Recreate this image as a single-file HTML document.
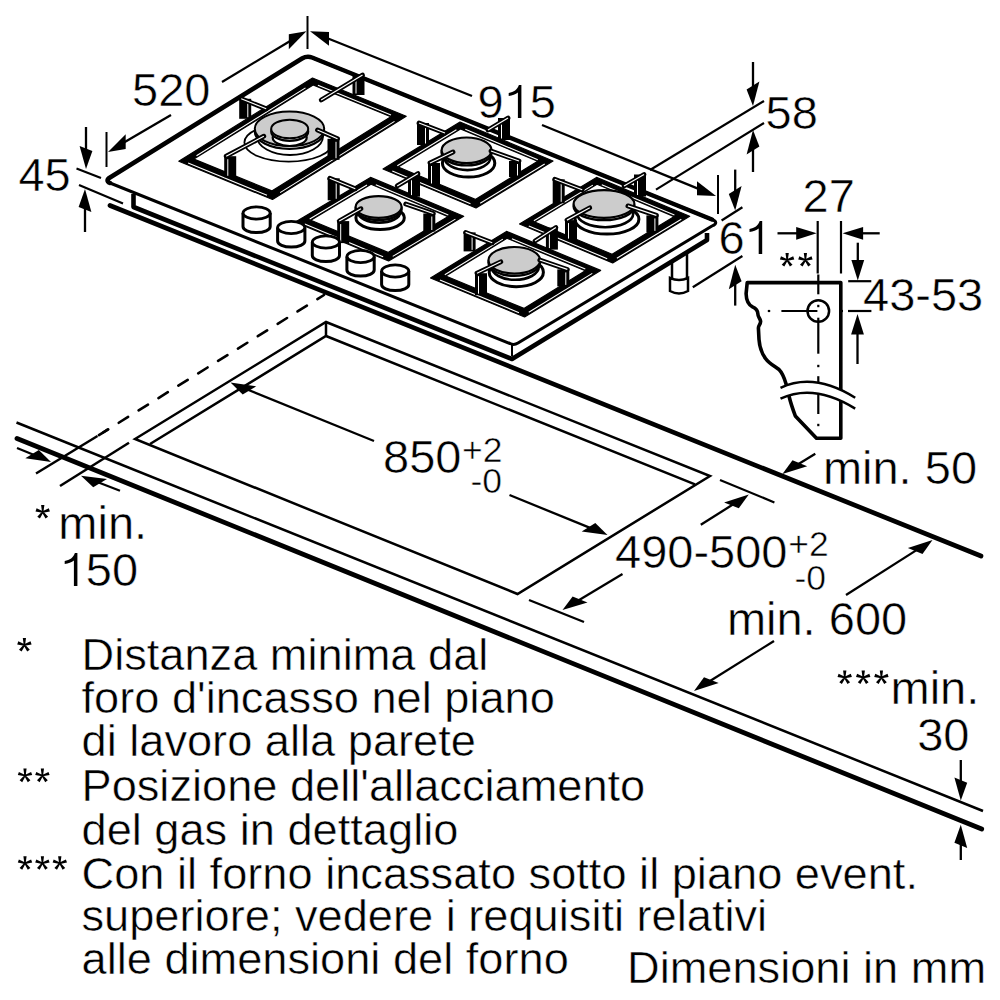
<!DOCTYPE html>
<html><head><meta charset="utf-8">
<style>
html,body{margin:0;padding:0;background:#fff;}
svg{display:block;}
text{font-family:"Liberation Sans",sans-serif;fill:#000;stroke:#fff;stroke-width:0.5px;}
</style></head>
<body>
<svg width="1000" height="1000" viewBox="0 0 1000 1000">
<g stroke="#000" fill="none">
<line x1="110" y1="205.5" x2="981" y2="556" stroke-width="4.7" stroke-linecap="round" />
<line x1="16.5" y1="422.5" x2="983" y2="811" stroke-width="2.5" stroke-linecap="butt" />
<line x1="17" y1="438.5" x2="981.7" y2="829" stroke-width="4.8" stroke-linecap="round" />
<path d="M135,439 L326,322 L710,476 L517.5,594 Z" stroke-width="2.5" fill="none" />
<path d="M150,444 L326,336 L695,484.4" stroke-width="2.5" fill="none" />
<line x1="326" y1="322" x2="326" y2="336" stroke-width="2.5" stroke-linecap="butt" />
<line x1="36" y1="473.5" x2="97.5" y2="436" stroke-width="2.5" stroke-linecap="butt" />
<line x1="97.5" y1="436" x2="324" y2="295" stroke-width="2.6" stroke-linecap="round" stroke-dasharray="11,12.4" stroke-dashoffset="21.75"/>
<line x1="103" y1="432.5" x2="107.5" y2="429.7" stroke-width="2.6" stroke-linecap="round" />
<line x1="60" y1="486" x2="129" y2="442.7" stroke-width="2.5" stroke-linecap="butt" />
<line x1="17" y1="448" x2="34.8" y2="455.3" stroke-width="2.3" stroke-linecap="butt" />
<path d="M51,462 L38.8,450.1 L25.3,458.3 Z" stroke="none" fill="#000"/>
<line x1="120" y1="490.7" x2="97.3" y2="482" stroke-width="2.3" stroke-linecap="butt" />
<path d="M81,475.7 L107,478.9 L93.2,487.3 Z" stroke="none" fill="#000"/>
<path d="M133.5,194 L133.5,207 L512,359 L707,240 L707,233" stroke-width="4.6" fill="none" stroke-linejoin="round"/>
<line x1="512" y1="345" x2="512" y2="356" stroke-width="2" stroke-linecap="butt" />
<path d="M110,177.5 Q105,180.5 110,183 L510,343.5 Q514,345.5 518,343 L712,226 Q719.5,222.5 712,219.5 L312,57.5 Q307,55.5 302,58.5 Z" stroke-width="3.0" fill="#fff" stroke-linejoin="round"/>
<path d="M110,183 Q105,180.5 110,177.5 L302,58.5 Q307,55.5 312,57.5 L712,219.5" stroke-width="4.5" fill="none" stroke-linecap="round"/>
<path d="M672,262 L672,278 M687,253 L687,278" stroke-width="2.5" fill="none" />
<path d="M670,278 L670,291 Q679,296 688,291 L688,278 Q679,282 670,278 Z" stroke-width="2.5" fill="#fff" />
<path d="M178.8,161.2 L312.5,78 L406.2,116.2 L272.5,199.5 Z M193.9,159.1 L313.1,84.9 L390.9,116.7 L271.8,190.9 Z" fill="#000" fill-rule="evenodd" stroke="#000" stroke-width="1.2" stroke-linejoin="round"/>
<line x1="196.5" y1="155.7" x2="305.5" y2="87.9" stroke-width="1.1" stroke-linecap="butt" stroke="#fff"/>
<line x1="317.9" y1="85.3" x2="391" y2="115.1" stroke-width="1.1" stroke-linecap="butt" stroke="#fff"/>
<line x1="394.5" y1="121.4" x2="280.1" y2="192.6" stroke-width="1.1" stroke-linecap="butt" stroke="#fff"/>
<line x1="267" y1="195.3" x2="188.1" y2="163.1" stroke-width="1.1" stroke-linecap="butt" stroke="#fff"/>
<ellipse cx="288.7" cy="142.6" rx="44.3" ry="19" stroke-width="1.8" fill="#fff" />
<ellipse cx="290" cy="136.5" rx="33" ry="18.5" stroke-width="1.8" fill="#fff" />
<ellipse cx="289.5" cy="131.5" rx="34.7" ry="17.3" stroke-width="2.2" fill="#fff" />
<ellipse cx="289.5" cy="128.8" rx="34.7" ry="17.3" stroke-width="2" fill="#ccc" />
<ellipse cx="289.7" cy="137.5" rx="17" ry="8.5" stroke-width="2.2" fill="#fff" />
<ellipse cx="289.7" cy="131.5" rx="18.5" ry="9.3" stroke-width="2.2" fill="#fff" />
<ellipse cx="289.7" cy="129" rx="18.5" ry="9.3" stroke-width="2" fill="#ccc" />
<rect x="352.5" y="75" width="12" height="20" fill="#000" stroke="none"/>
<line x1="356" y1="78" x2="356" y2="93.5" stroke-width="1.0" stroke-linecap="butt" stroke="#fff"/>
<line x1="362.5" y1="75" x2="321.2" y2="100" stroke-width="4.8" stroke-linecap="round" />
<line x1="362.5" y1="75" x2="321.2" y2="100" stroke-width="1.2" stroke-linecap="butt" stroke="#fff"/>
<rect x="239.2" y="98.8" width="12" height="20" fill="#000" stroke="none"/>
<line x1="247.8" y1="101.8" x2="247.8" y2="117.2" stroke-width="1.0" stroke-linecap="butt" stroke="#fff"/>
<line x1="241.2" y1="98.8" x2="266.2" y2="108.8" stroke-width="4.8" stroke-linecap="round" />
<line x1="241.2" y1="98.8" x2="266.2" y2="108.8" stroke-width="1.2" stroke-linecap="butt" stroke="#fff"/>
<rect x="224.2" y="156.2" width="12" height="21" fill="#000" stroke="none"/>
<line x1="227.8" y1="159.2" x2="227.8" y2="175.8" stroke-width="1.0" stroke-linecap="butt" stroke="#fff"/>
<line x1="226.2" y1="156.2" x2="263.8" y2="136.2" stroke-width="4.8" stroke-linecap="round" />
<line x1="226.2" y1="156.2" x2="263.8" y2="136.2" stroke-width="1.2" stroke-linecap="butt" stroke="#fff"/>
<rect x="327.5" y="138.8" width="12" height="21" fill="#000" stroke="none"/>
<line x1="336" y1="141.8" x2="336" y2="158.2" stroke-width="1.0" stroke-linecap="butt" stroke="#fff"/>
<line x1="337.5" y1="138.8" x2="317.5" y2="130" stroke-width="4.8" stroke-linecap="round" />
<line x1="337.5" y1="138.8" x2="317.5" y2="130" stroke-width="1.2" stroke-linecap="butt" stroke="#fff"/>
<path d="M383,169 L460,122 L553,161 L476,208 Z M398.2,167 L460.5,128.9 L537.7,161.3 L475.3,199.4 Z" fill="#000" fill-rule="evenodd" stroke="#000" stroke-width="1.2" stroke-linejoin="round"/>
<line x1="397.3" y1="165.8" x2="456.4" y2="129.7" stroke-width="1.1" stroke-linecap="butt" stroke="#fff"/>
<line x1="465.3" y1="129.3" x2="537.8" y2="159.7" stroke-width="1.1" stroke-linecap="butt" stroke="#fff"/>
<line x1="544.7" y1="164" x2="480.2" y2="203.3" stroke-width="1.1" stroke-linecap="butt" stroke="#fff"/>
<line x1="470.5" y1="203.7" x2="392.3" y2="170.9" stroke-width="1.1" stroke-linecap="butt" stroke="#fff"/>
<ellipse cx="468.6" cy="163.2" rx="26.2" ry="13.8" stroke-width="3" fill="#fff" />
<ellipse cx="467.4" cy="157.6" rx="23" ry="12.5" stroke-width="2.6" fill="#fff" />
<ellipse cx="466.6" cy="152.6" rx="25" ry="12.8" stroke-width="2.4" fill="#fff" />
<ellipse cx="466.6" cy="150.3" rx="25" ry="12.8" stroke-width="2.2" fill="#ccc" />
<rect x="417" y="123" width="12" height="22" fill="#000" stroke="none"/>
<line x1="425.5" y1="126" x2="425.5" y2="143.5" stroke-width="1.0" stroke-linecap="butt" stroke="#fff"/>
<line x1="419" y1="123" x2="445" y2="133" stroke-width="4.8" stroke-linecap="round" />
<line x1="419" y1="123" x2="445" y2="133" stroke-width="1.2" stroke-linecap="butt" stroke="#fff"/>
<rect x="498" y="118" width="12" height="22" fill="#000" stroke="none"/>
<line x1="501.5" y1="121" x2="501.5" y2="138.5" stroke-width="1.0" stroke-linecap="butt" stroke="#fff"/>
<line x1="508" y1="118" x2="488" y2="130" stroke-width="4.8" stroke-linecap="round" />
<line x1="508" y1="118" x2="488" y2="130" stroke-width="1.2" stroke-linecap="butt" stroke="#fff"/>
<rect x="428" y="163" width="12" height="22" fill="#000" stroke="none"/>
<line x1="431.5" y1="166" x2="431.5" y2="183.5" stroke-width="1.0" stroke-linecap="butt" stroke="#fff"/>
<line x1="430" y1="163" x2="453" y2="152" stroke-width="4.8" stroke-linecap="round" />
<line x1="430" y1="163" x2="453" y2="152" stroke-width="1.2" stroke-linecap="butt" stroke="#fff"/>
<rect x="509" y="161" width="12" height="16" fill="#000" stroke="none"/>
<line x1="517.5" y1="164" x2="517.5" y2="175.5" stroke-width="1.0" stroke-linecap="butt" stroke="#fff"/>
<line x1="519" y1="161" x2="491" y2="151" stroke-width="4.8" stroke-linecap="round" />
<line x1="519" y1="161" x2="491" y2="151" stroke-width="1.2" stroke-linecap="butt" stroke="#fff"/>
<path d="M295.4,222.1 L370.5,177.4 L463.7,216.3 L388.6,261 Z M310.8,220.2 L371,184.3 L448.2,216.6 L388,252.4 Z" fill="#000" fill-rule="evenodd" stroke="#000" stroke-width="1.2" stroke-linejoin="round"/>
<line x1="309.7" y1="219" x2="367" y2="185" stroke-width="1.1" stroke-linecap="butt" stroke="#fff"/>
<line x1="375.8" y1="184.7" x2="448.3" y2="215" stroke-width="1.1" stroke-linecap="butt" stroke="#fff"/>
<line x1="455.4" y1="219.1" x2="392.7" y2="256.4" stroke-width="1.1" stroke-linecap="butt" stroke="#fff"/>
<line x1="383.1" y1="256.8" x2="304.7" y2="224" stroke-width="1.1" stroke-linecap="butt" stroke="#fff"/>
<ellipse cx="380.1" cy="217.8" rx="24.2" ry="11.7" stroke-width="3" fill="#fff" />
<ellipse cx="379.2" cy="212" rx="21.2" ry="10.6" stroke-width="2.6" fill="#fff" />
<ellipse cx="378.6" cy="209.3" rx="23" ry="10.8" stroke-width="2.4" fill="#fff" />
<ellipse cx="378.6" cy="207" rx="23" ry="10.8" stroke-width="2.2" fill="#ccc" />
<rect x="327.7" y="178.3" width="12" height="22" fill="#000" stroke="none"/>
<line x1="336.2" y1="181.3" x2="336.2" y2="198.8" stroke-width="1.0" stroke-linecap="butt" stroke="#fff"/>
<line x1="329.7" y1="178.3" x2="355.3" y2="188.8" stroke-width="4.8" stroke-linecap="round" />
<line x1="329.7" y1="178.3" x2="355.3" y2="188.8" stroke-width="1.2" stroke-linecap="butt" stroke="#fff"/>
<rect x="408" y="173.6" width="12" height="23" fill="#000" stroke="none"/>
<line x1="411.5" y1="176.6" x2="411.5" y2="195.1" stroke-width="1.0" stroke-linecap="butt" stroke="#fff"/>
<line x1="418" y1="173.6" x2="397.2" y2="185.9" stroke-width="4.8" stroke-linecap="round" />
<line x1="418" y1="173.6" x2="397.2" y2="185.9" stroke-width="1.2" stroke-linecap="butt" stroke="#fff"/>
<rect x="337.2" y="221.1" width="12" height="22" fill="#000" stroke="none"/>
<line x1="340.7" y1="224.1" x2="340.7" y2="241.6" stroke-width="1.0" stroke-linecap="butt" stroke="#fff"/>
<line x1="339.2" y1="221.1" x2="361" y2="208.7" stroke-width="4.8" stroke-linecap="round" />
<line x1="339.2" y1="221.1" x2="361" y2="208.7" stroke-width="1.2" stroke-linecap="butt" stroke="#fff"/>
<rect x="423.3" y="213.5" width="12" height="18" fill="#000" stroke="none"/>
<line x1="431.8" y1="216.5" x2="431.8" y2="230" stroke-width="1.0" stroke-linecap="butt" stroke="#fff"/>
<line x1="433.3" y1="213.5" x2="405.7" y2="204" stroke-width="4.8" stroke-linecap="round" />
<line x1="433.3" y1="213.5" x2="405.7" y2="204" stroke-width="1.2" stroke-linecap="butt" stroke="#fff"/>
<path d="M519.5,224 L596.5,177.4 L689.7,216.3 L612.7,262.9 Z M534.7,222 L597,184.3 L674.3,216.6 L612.1,254.3 Z" fill="#000" fill-rule="evenodd" stroke="#000" stroke-width="1.2" stroke-linejoin="round"/>
<line x1="533.9" y1="220.8" x2="592.9" y2="185.1" stroke-width="1.1" stroke-linecap="butt" stroke="#fff"/>
<line x1="601.8" y1="184.7" x2="674.4" y2="215" stroke-width="1.1" stroke-linecap="butt" stroke="#fff"/>
<line x1="681.3" y1="219.3" x2="616.9" y2="258.2" stroke-width="1.1" stroke-linecap="butt" stroke="#fff"/>
<line x1="607.2" y1="258.7" x2="528.8" y2="225.9" stroke-width="1.1" stroke-linecap="butt" stroke="#fff"/>
<ellipse cx="607" cy="219.2" rx="31.9" ry="14.9" stroke-width="3" fill="#fff" />
<ellipse cx="605.2" cy="213.7" rx="28" ry="13.5" stroke-width="2.6" fill="#fff" />
<ellipse cx="604" cy="206.3" rx="30.4" ry="13.8" stroke-width="2.4" fill="#fff" />
<ellipse cx="604" cy="204" rx="30.4" ry="13.8" stroke-width="2.2" fill="#ccc" />
<rect x="552.7" y="179.3" width="12" height="24" fill="#000" stroke="none"/>
<line x1="561.2" y1="182.3" x2="561.2" y2="201.8" stroke-width="1.0" stroke-linecap="butt" stroke="#fff"/>
<line x1="554.7" y1="179.3" x2="582.2" y2="189.7" stroke-width="4.8" stroke-linecap="round" />
<line x1="554.7" y1="179.3" x2="582.2" y2="189.7" stroke-width="1.2" stroke-linecap="butt" stroke="#fff"/>
<rect x="634" y="174.5" width="12" height="22" fill="#000" stroke="none"/>
<line x1="637.5" y1="177.5" x2="637.5" y2="195" stroke-width="1.0" stroke-linecap="butt" stroke="#fff"/>
<line x1="644" y1="174.5" x2="624" y2="186" stroke-width="4.8" stroke-linecap="round" />
<line x1="644" y1="174.5" x2="624" y2="186" stroke-width="1.2" stroke-linecap="butt" stroke="#fff"/>
<rect x="565" y="220.1" width="12" height="20" fill="#000" stroke="none"/>
<line x1="568.5" y1="223.1" x2="568.5" y2="238.6" stroke-width="1.0" stroke-linecap="butt" stroke="#fff"/>
<line x1="567" y1="220.1" x2="589.8" y2="207.8" stroke-width="4.8" stroke-linecap="round" />
<line x1="567" y1="220.1" x2="589.8" y2="207.8" stroke-width="1.2" stroke-linecap="butt" stroke="#fff"/>
<rect x="646.4" y="215.4" width="12" height="17" fill="#000" stroke="none"/>
<line x1="654.9" y1="218.4" x2="654.9" y2="230.9" stroke-width="1.0" stroke-linecap="butt" stroke="#fff"/>
<line x1="656.4" y1="215.4" x2="627.9" y2="205.9" stroke-width="4.8" stroke-linecap="round" />
<line x1="656.4" y1="215.4" x2="627.9" y2="205.9" stroke-width="1.2" stroke-linecap="butt" stroke="#fff"/>
<path d="M430.5,278 L506.5,231.4 L600.6,270.4 L524.6,317 Z M445.7,276 L507,238.3 L585.3,270.8 L523.9,308.4 Z" fill="#000" fill-rule="evenodd" stroke="#000" stroke-width="1.2" stroke-linejoin="round"/>
<line x1="444.8" y1="274.8" x2="502.9" y2="239.1" stroke-width="1.1" stroke-linecap="butt" stroke="#fff"/>
<line x1="511.9" y1="238.7" x2="585.3" y2="269.1" stroke-width="1.1" stroke-linecap="butt" stroke="#fff"/>
<line x1="592.3" y1="273.4" x2="528.8" y2="312.3" stroke-width="1.1" stroke-linecap="butt" stroke="#fff"/>
<line x1="519" y1="312.7" x2="439.9" y2="279.9" stroke-width="1.1" stroke-linecap="butt" stroke="#fff"/>
<ellipse cx="516.3" cy="272.3" rx="27.1" ry="14.4" stroke-width="3" fill="#fff" />
<ellipse cx="515.1" cy="266.8" rx="23.7" ry="13" stroke-width="2.6" fill="#fff" />
<ellipse cx="514.3" cy="262.6" rx="25.8" ry="13.3" stroke-width="2.4" fill="#fff" />
<ellipse cx="514.3" cy="260.3" rx="25.8" ry="13.3" stroke-width="2.2" fill="#ccc" />
<rect x="463.6" y="232.4" width="12" height="19" fill="#000" stroke="none"/>
<line x1="472.1" y1="235.4" x2="472.1" y2="249.9" stroke-width="1.0" stroke-linecap="butt" stroke="#fff"/>
<line x1="465.6" y1="232.4" x2="492.2" y2="242.8" stroke-width="4.8" stroke-linecap="round" />
<line x1="465.6" y1="232.4" x2="492.2" y2="242.8" stroke-width="1.2" stroke-linecap="butt" stroke="#fff"/>
<rect x="545.9" y="227.6" width="12" height="22" fill="#000" stroke="none"/>
<line x1="549.4" y1="230.6" x2="549.4" y2="248.1" stroke-width="1.0" stroke-linecap="butt" stroke="#fff"/>
<line x1="555.9" y1="227.6" x2="535" y2="240.9" stroke-width="4.8" stroke-linecap="round" />
<line x1="555.9" y1="227.6" x2="535" y2="240.9" stroke-width="1.2" stroke-linecap="butt" stroke="#fff"/>
<rect x="475" y="273.2" width="12" height="22" fill="#000" stroke="none"/>
<line x1="478.5" y1="276.2" x2="478.5" y2="293.7" stroke-width="1.0" stroke-linecap="butt" stroke="#fff"/>
<line x1="477" y1="273.2" x2="500.8" y2="261.8" stroke-width="4.8" stroke-linecap="round" />
<line x1="477" y1="273.2" x2="500.8" y2="261.8" stroke-width="1.2" stroke-linecap="butt" stroke="#fff"/>
<rect x="557.3" y="269.4" width="12" height="17" fill="#000" stroke="none"/>
<line x1="565.8" y1="272.4" x2="565.8" y2="284.9" stroke-width="1.0" stroke-linecap="butt" stroke="#fff"/>
<line x1="567.3" y1="269.4" x2="539.8" y2="260" stroke-width="4.8" stroke-linecap="round" />
<line x1="567.3" y1="269.4" x2="539.8" y2="260" stroke-width="1.2" stroke-linecap="butt" stroke="#fff"/>
<path d="M243,213 L243,226.5 A13.6,6.1 0 0 0 270.2,226.5 L270.2,213" fill="#fff" stroke-width="3"/>
<ellipse cx="256.6" cy="213" rx="13.6" ry="6.1" stroke-width="2.8" fill="#fff" />
<path d="M277.6,227.5 L277.6,241 A13.6,6.1 0 0 0 304.9,241 L304.9,227.5" fill="#fff" stroke-width="3"/>
<ellipse cx="291.2" cy="227.5" rx="13.6" ry="6.1" stroke-width="2.8" fill="#fff" />
<path d="M312.3,242 L312.3,255.5 A13.6,6.1 0 0 0 339.5,255.5 L339.5,242" fill="#fff" stroke-width="3"/>
<ellipse cx="325.9" cy="242" rx="13.6" ry="6.1" stroke-width="2.8" fill="#fff" />
<path d="M346.9,256.5 L346.9,270 A13.6,6.1 0 0 0 374.2,270 L374.2,256.5" fill="#fff" stroke-width="3"/>
<ellipse cx="360.6" cy="256.5" rx="13.6" ry="6.1" stroke-width="2.8" fill="#fff" />
<path d="M381.6,271 L381.6,284.5 A13.6,6.1 0 0 0 408.8,284.5 L408.8,271" fill="#fff" stroke-width="3"/>
<ellipse cx="395.2" cy="271" rx="13.6" ry="6.1" stroke-width="2.8" fill="#fff" />
<path d="M517.9,118 L521.4,118 L521.4,85 L518.9,85 C517.5,89.5 513.7,92.2 508.7,93 L508.7,96 C512.3,95.7 515.7,94.4 517.9,92.5 Z" fill="#000" stroke="none"/>
<path d="M758.7,254 L762.2,254 L762.2,221 L759.7,221 C758.3,225.5 754.5,228.2 749.5,229 L749.5,232 C753.1,231.7 756.5,230.4 758.7,228.5 Z" fill="#000" stroke="none"/>
<path d="M73.9,586 L77.4,586 L77.4,553 L74.9,553 C73.5,557.5 69.7,560.2 64.7,561 L64.7,564 C68.3,563.7 71.7,562.4 73.9,560.5 Z" fill="#000" stroke="none"/>
<path d="M25.1,645 L26,638 L22.8,638 L23.7,645 Z M24.6,645.7 L31.6,644.4 L30.5,641.3 L24.2,644.3 Z M23.8,645.4 L27.2,651.6 L29.8,649.7 L25,644.6 Z M23.8,644.6 L19,649.7 L21.6,651.6 L25,645.4 Z M24.6,644.3 L18.3,641.3 L17.2,644.4 L24.2,645.7 Z " fill="#000" stroke="none"/>
<path d="M25.7,775.6 L26.6,768.6 L23.4,768.6 L24.3,775.6 Z M25.2,776.3 L32.2,775 L31.1,771.9 L24.8,774.9 Z M24.4,776 L27.8,782.2 L30.4,780.3 L25.6,775.2 Z M24.4,775.2 L19.6,780.3 L22.2,782.2 L25.6,776 Z M25.2,774.9 L18.9,771.9 L17.8,775 L24.8,776.3 Z " fill="#000" stroke="none"/>
<path d="M43.1,775.6 L44,768.6 L40.8,768.6 L41.7,775.6 Z M42.6,776.3 L49.6,775 L48.5,771.9 L42.2,774.9 Z M41.8,776 L45.2,782.2 L47.8,780.3 L43,775.2 Z M41.8,775.2 L37,780.3 L39.6,782.2 L43,776 Z M42.6,774.9 L36.3,771.9 L35.2,775 L42.2,776.3 Z " fill="#000" stroke="none"/>
<path d="M25.7,863.2 L26.6,856.2 L23.4,856.2 L24.3,863.2 Z M25.2,863.9 L32.2,862.6 L31.1,859.5 L24.8,862.5 Z M24.4,863.6 L27.8,869.8 L30.4,867.9 L25.6,862.8 Z M24.4,862.8 L19.6,867.9 L22.2,869.8 L25.6,863.6 Z M25.2,862.5 L18.9,859.5 L17.8,862.6 L24.8,863.9 Z " fill="#000" stroke="none"/>
<path d="M43.1,863.2 L44,856.2 L40.8,856.2 L41.7,863.2 Z M42.6,863.9 L49.6,862.6 L48.5,859.5 L42.2,862.5 Z M41.8,863.6 L45.2,869.8 L47.8,867.9 L43,862.8 Z M41.8,862.8 L37,867.9 L39.6,869.8 L43,863.6 Z M42.6,862.5 L36.3,859.5 L35.2,862.6 L42.2,863.9 Z " fill="#000" stroke="none"/>
<path d="M60.5,863.2 L61.4,856.2 L58.1,856.2 L59.1,863.2 Z M60,863.9 L67,862.6 L65.9,859.5 L59.6,862.5 Z M59.2,863.6 L62.6,869.8 L65.2,867.9 L60.4,862.8 Z M59.2,862.8 L54.4,867.9 L57,869.8 L60.4,863.6 Z M60,862.5 L53.7,859.5 L52.6,862.6 L59.6,863.9 Z " fill="#000" stroke="none"/>
<path d="M43.4,512 L44.4,505 L41.1,505 L42,512 Z M42.9,512.7 L49.9,511.4 L48.8,508.3 L42.5,511.3 Z M42.1,512.4 L45.5,518.6 L48.1,516.7 L43.3,511.6 Z M42.1,511.6 L37.3,516.7 L39.9,518.6 L43.3,512.4 Z M42.9,511.3 L36.6,508.3 L35.5,511.4 L42.5,512.7 Z " fill="#000" stroke="none"/>
<path d="M787.8,260 L788.8,253 L785.5,253 L786.4,260 Z M787.3,260.7 L794.3,259.4 L793.2,256.3 L786.9,259.3 Z M786.5,260.4 L789.9,266.6 L792.5,264.7 L787.7,259.6 Z M786.5,259.6 L781.7,264.7 L784.3,266.6 L787.7,260.4 Z M787.3,259.3 L781,256.3 L779.9,259.4 L786.9,260.7 Z " fill="#000" stroke="none"/>
<path d="M806.1,260 L807,253 L803.8,253 L804.7,260 Z M805.6,260.7 L812.6,259.4 L811.5,256.3 L805.2,259.3 Z M804.8,260.4 L808.2,266.6 L810.8,264.7 L806,259.6 Z M804.8,259.6 L800,264.7 L802.6,266.6 L806,260.4 Z M805.6,259.3 L799.3,256.3 L798.2,259.4 L805.2,260.7 Z " fill="#000" stroke="none"/>
<path d="M845.4,677.5 L846.4,670.5 L843.1,670.5 L844,677.5 Z M844.9,678.2 L851.9,676.9 L850.8,673.8 L844.5,676.8 Z M844.1,677.9 L847.5,684.1 L850.1,682.2 L845.3,677.1 Z M844.1,677.1 L839.3,682.2 L841.9,684.1 L845.3,677.9 Z M844.9,676.8 L838.6,673.8 L837.5,676.9 L844.5,678.2 Z " fill="#000" stroke="none"/>
<path d="M863.9,677.5 L864.9,670.5 L861.6,670.5 L862.5,677.5 Z M863.4,678.2 L870.4,676.9 L869.3,673.8 L863,676.8 Z M862.6,677.9 L866,684.1 L868.6,682.2 L863.8,677.1 Z M862.6,677.1 L857.8,682.2 L860.4,684.1 L863.8,677.9 Z M863.4,676.8 L857.1,673.8 L856,676.9 L863,678.2 Z " fill="#000" stroke="none"/>
<path d="M882.1,677.5 L883,670.5 L879.8,670.5 L880.7,677.5 Z M881.6,678.2 L888.6,676.9 L887.5,673.8 L881.2,676.8 Z M880.8,677.9 L884.2,684.1 L886.8,682.2 L882,677.1 Z M880.8,677.1 L876,682.2 L878.6,684.1 L882,677.9 Z M881.6,676.8 L875.3,673.8 L874.2,676.9 L881.2,678.2 Z " fill="#000" stroke="none"/>
<line x1="106.5" y1="132" x2="106.5" y2="167" stroke-width="2" stroke-linecap="butt" />
<line x1="307.5" y1="16" x2="307.5" y2="49" stroke-width="2" stroke-linecap="butt" />
<line x1="171" y1="115" x2="123.1" y2="143.1" stroke-width="2.3" stroke-linecap="butt" />
<path d="M108,152 L125.7,149 L125.7,134.2 Z" stroke="none" fill="#000"/>
<line x1="222" y1="82" x2="291.4" y2="40.2" stroke-width="2.3" stroke-linecap="butt" />
<path d="M306.4,31.2 L288.8,49.2 L288.8,34.3 Z" stroke="none" fill="#000"/>
<line x1="718" y1="175" x2="718" y2="214" stroke-width="2" stroke-linecap="butt" />
<line x1="472" y1="96" x2="326.2" y2="37.7" stroke-width="2.3" stroke-linecap="butt" />
<path d="M310,31.2 L329,45.7 L329,31.9 Z" stroke="none" fill="#000"/>
<line x1="542" y1="125" x2="699.8" y2="189.4" stroke-width="2.3" stroke-linecap="butt" />
<path d="M716,196 L697,195.2 L697,181.3 Z" stroke="none" fill="#000"/>
<line x1="76.5" y1="168.5" x2="101" y2="178" stroke-width="2.2" stroke-linecap="butt" />
<line x1="79" y1="185" x2="123" y2="203.5" stroke-width="2.2" stroke-linecap="butt" />
<line x1="86" y1="127" x2="86" y2="151.5" stroke-width="2.3" stroke-linecap="butt" />
<path d="M86,169 L92.4,151.1 L79.6,145.9 Z" stroke="none" fill="#000"/>
<line x1="85" y1="232" x2="85" y2="206.5" stroke-width="2.3" stroke-linecap="butt" />
<path d="M85,189 L91.4,212.1 L78.6,206.9 Z" stroke="none" fill="#000"/>
<line x1="650" y1="170" x2="764" y2="101" stroke-width="2.2" stroke-linecap="butt" />
<line x1="656" y1="189.6" x2="764" y2="123" stroke-width="2.2" stroke-linecap="butt" />
<line x1="753" y1="62" x2="753" y2="88.5" stroke-width="2.3" stroke-linecap="butt" />
<path d="M753,106 L759.4,81.6 L746.6,89.4 Z" stroke="none" fill="#000"/>
<line x1="753" y1="172" x2="753" y2="147.5" stroke-width="2.3" stroke-linecap="butt" />
<path d="M753,130 L759.4,146.6 L746.6,154.4 Z" stroke="none" fill="#000"/>
<line x1="721.6" y1="220.5" x2="742.4" y2="207.2" stroke-width="2.2" stroke-linecap="butt" />
<line x1="692.8" y1="287.2" x2="742.4" y2="256" stroke-width="2.2" stroke-linecap="butt" />
<line x1="735.2" y1="169.6" x2="735.2" y2="192.9" stroke-width="2.3" stroke-linecap="butt" />
<path d="M735.2,210.4 L741.6,185.9 L728.8,193.9 Z" stroke="none" fill="#000"/>
<line x1="735.2" y1="305.6" x2="735.2" y2="282.3" stroke-width="2.3" stroke-linecap="butt" />
<path d="M735.2,264.8 L741.6,281.3 L728.8,289.3 Z" stroke="none" fill="#000"/>
<line x1="841" y1="221" x2="841" y2="273.5" stroke-width="2.2" stroke-linecap="butt" />
<line x1="817.7" y1="221" x2="817.7" y2="273.5" stroke-width="2.2" stroke-linecap="butt" />
<line x1="777.5" y1="233.3" x2="799.2" y2="233.3" stroke-width="2.3" stroke-linecap="butt" />
<path d="M816.7,233.3 L796.2,239.7 L796.2,226.9 Z" stroke="none" fill="#000"/>
<line x1="879.7" y1="233.3" x2="860.1" y2="233.3" stroke-width="2.3" stroke-linecap="butt" />
<path d="M842.6,233.3 L863.1,226.9 L863.1,239.7 Z" stroke="none" fill="#000"/>
<line x1="848.2" y1="281.2" x2="871.3" y2="281.2" stroke-width="2.2" stroke-linecap="butt" />
<line x1="848" y1="311" x2="871.4" y2="311" stroke-width="2.2" stroke-linecap="butt" />
<line x1="857.8" y1="242.7" x2="857.8" y2="263" stroke-width="2.3" stroke-linecap="butt" />
<path d="M857.8,280.5 L851.4,260 L864.2,260 Z" stroke="none" fill="#000"/>
<line x1="857.5" y1="364" x2="857.5" y2="331.5" stroke-width="2.3" stroke-linecap="butt" />
<path d="M857.5,314 L863.9,334.5 L851.1,334.5 Z" stroke="none" fill="#000"/>
<line x1="374" y1="441" x2="246.7" y2="389.2" stroke-width="2.3" stroke-linecap="butt" />
<path d="M230.5,382.6 L256.3,386.2 L242.7,394.5 Z" stroke="none" fill="#000"/>
<line x1="509.5" y1="495" x2="591.3" y2="528.4" stroke-width="2.3" stroke-linecap="butt" />
<path d="M607.5,535 L595.3,523.1 L581.7,531.4 Z" stroke="none" fill="#000"/>
<line x1="529" y1="600" x2="584" y2="622" stroke-width="2.2" stroke-linecap="butt" />
<line x1="622.5" y1="574" x2="577.5" y2="601" stroke-width="2.3" stroke-linecap="butt" />
<path d="M562.5,610 L587.5,602.4 L572.6,596.5 Z" stroke="none" fill="#000"/>
<line x1="720" y1="480" x2="774.4" y2="502.4" stroke-width="2.2" stroke-linecap="butt" />
<line x1="700.8" y1="524.8" x2="734" y2="503.8" stroke-width="2.3" stroke-linecap="butt" />
<path d="M748.8,494.4 L738.8,508.3 L724.1,502.4 Z" stroke="none" fill="#000"/>
<line x1="815.3" y1="453.7" x2="797.3" y2="464.8" stroke-width="2.3" stroke-linecap="butt" />
<path d="M782.4,474 L807.2,466.2 L792.5,460.3 Z" stroke="none" fill="#000"/>
<line x1="846" y1="595" x2="917.7" y2="549.4" stroke-width="2.3" stroke-linecap="butt" />
<path d="M932.5,540 L922.5,553.9 L907.9,548.1 Z" stroke="none" fill="#000"/>
<line x1="774" y1="641" x2="708.8" y2="681.7" stroke-width="2.3" stroke-linecap="butt" />
<path d="M694,691 L718.7,683.1 L704,677.2 Z" stroke="none" fill="#000"/>
<line x1="960.8" y1="760" x2="960.8" y2="783.1" stroke-width="2.3" stroke-linecap="butt" />
<path d="M960.8,800.6 L967.2,782.7 L954.4,777.5 Z" stroke="none" fill="#000"/>
<line x1="960.8" y1="860" x2="960.8" y2="842.3" stroke-width="2.3" stroke-linecap="butt" />
<path d="M960.8,824.8 L967.2,847.9 L954.4,842.7 Z" stroke="none" fill="#000"/>
<path d="M747.2,282.6 L840.8,282.6 L840.8,438.3 L816.5,438.3 L795.3,415.9 C792,407 790,400 789.3,397.2 L786,383.7 C784,377 782,372.5 779,369.5 C775,366.5 769,363.5 765.5,358.5 C761.5,353 759.5,347 759,339.5 L758.4,328 C758.3,325.5 760.8,324 760.6,321.2 C760.3,318.5 757.8,317 757.9,314 C757.8,310.5 755.5,308 752.5,306.8 C749,305 746.3,300.5 746.1,293.7 Z" stroke-width="3.6" fill="#fff" stroke-linejoin="round"/>
<ellipse cx="818.3" cy="311" rx="10.8" ry="10.8" stroke-width="2.5" fill="none" />
<line x1="818.3" y1="274.5" x2="818.3" y2="294.3" stroke-width="2.2" stroke-linecap="butt" />
<line x1="818.3" y1="317.7" x2="818.3" y2="353.7" stroke-width="2.2" stroke-linecap="butt" />
<line x1="818.3" y1="376.2" x2="818.3" y2="414" stroke-width="2.2" stroke-linecap="butt" />
<line x1="818.3" y1="304.8" x2="818.3" y2="307.2" stroke-width="2.2" stroke-linecap="butt" />
<line x1="818.3" y1="364.8" x2="818.3" y2="367.2" stroke-width="2.2" stroke-linecap="butt" />
<line x1="818.3" y1="423.8" x2="818.3" y2="426.2" stroke-width="2.2" stroke-linecap="butt" />
<line x1="781.4" y1="311" x2="817.4" y2="311" stroke-width="2.2" stroke-linecap="butt" />
<line x1="767.8" y1="311" x2="770.2" y2="311" stroke-width="2.2" stroke-linecap="butt" />
<line x1="840.5" y1="311" x2="843" y2="311" stroke-width="2.2" stroke-linecap="butt" />
<path d="M780.5,387.9 Q813.8,372 855.2,397.8 L855.2,408.6 Q813.8,383 780.5,398.7 Z" stroke-width="0" fill="#fff" stroke="none"/>
<path d="M780.5,387.9 Q813.8,372 855.2,397.8" stroke-width="2.5" fill="none" />
<path d="M780.5,398.7 Q813.8,383 855.2,408.6" stroke-width="2.5" fill="none" />
</g>
<g font-size="45.2">
<text x="81.5" y="670">Distanza minima dal</text>
<text x="81.5" y="712.5">foro d'incasso nel piano</text>
<text x="81.5" y="756">di lavoro alla parete</text>
<text x="81.5" y="801">Posizione dell'allacciamento</text>
<text x="81.5" y="845">del gas in dettaglio</text>
<text x="81.5" y="889">Con il forno incassato sotto il piano event.</text>
<text x="81.5" y="931">superiore; vedere i requisiti relativi</text>
<text x="81.5" y="974">alle dimensioni del forno</text>
<text x="627" y="983">Dimensioni in mm</text>
</g>
<g font-size="47">
<text x="132.1" y="106">520</text>
<text x="18.4" y="191">45</text>
<text x="477.6" y="118">9&#x2007;5</text>
<text x="765.6" y="128.5">58</text>
<text x="802.6" y="212">27</text>
<text x="718.4" y="254">6</text>
<text x="863" y="311">43-53</text>
<text x="383" y="472.5">850</text>
<text x="822.9" y="484">min. 50</text>
<text x="58.3" y="538.7">min.</text>
<text x="59.7" y="586">&#x2007;50</text>
<text x="615" y="567.5">490-500</text>
<text x="726.9" y="635">min. 600</text>
<text x="890.5" y="704">min.</text>
<text x="917.2" y="750.5">30</text>
</g>
<g font-size="35.5">
<text x="462" y="462">+2</text>
<text x="470.4" y="493.2">-0</text>
<text x="788.3" y="555.8">+2</text>
<text x="794.4" y="589.6">-0</text>
</g>
</svg>
</body></html>
